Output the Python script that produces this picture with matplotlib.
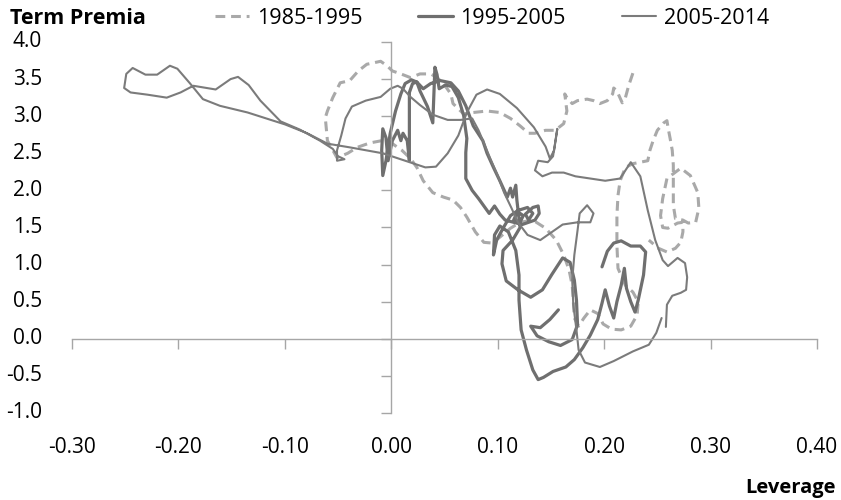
import numpy as np
import matplotlib
matplotlib.use("Agg")
import matplotlib.pyplot as plt
from matplotlib.transforms import blended_transform_factory

plt.rcParams['font.family'] = ['Open Sans', 'DejaVu Sans']

# Leverage (x) and term premia (y) paths for the three periods
lev_1985_1995 = [
    0.227, 0.223, 0.220, 0.217, 0.212, 0.209, 0.208, 0.203, 0.196, 0.190,
    0.184, 0.175, 0.170, 0.165, 0.163, 0.165, 0.162, 0.154, 0.145, 0.135,
    0.129, 0.121, 0.112, 0.102, 0.090, 0.077, 0.068, 0.058, 0.056, 0.049,
    0.043, 0.037, 0.027, 0.018, 0.009, 0.001, -0.004, -0.010, -0.023, -0.031,
    -0.039, -0.048, -0.055, -0.060, -0.062, -0.060, -0.051, -0.041, -0.032, -0.020,
    -0.009, 0.001, 0.010, 0.018, 0.024, 0.030, 0.039, 0.049, 0.058, 0.065,
    0.071, 0.079, 0.087, 0.095, 0.102, 0.112, 0.121, 0.133, 0.145, 0.155,
    0.162, 0.167, 0.170, 0.171, 0.172, 0.176, 0.181, 0.187, 0.194, 0.199,
    0.207, 0.216, 0.225, 0.231, 0.232, 0.227, 0.220, 0.213, 0.212, 0.212,
    0.213, 0.215, 0.220, 0.227, 0.241, 0.243, 0.246, 0.250, 0.256, 0.259,
    0.260, 0.262, 0.264, 0.265, 0.265, 0.265, 0.267, 0.274, 0.279, 0.286,
    0.289, 0.288, 0.281, 0.272, 0.259, 0.255, 0.253, 0.255, 0.260, 0.269,
    0.274, 0.274, 0.272, 0.267, 0.259, 0.251, 0.242,
]
tp_1985_1995 = [
    3.58, 3.41, 3.25, 3.18, 3.34, 3.38, 3.30, 3.21, 3.17, 3.21,
    3.23, 3.21, 3.17, 3.25, 3.30, 3.07, 2.90, 2.81, 2.81, 2.77,
    2.77, 2.87, 2.97, 3.05, 3.07, 3.05, 3.03, 3.17, 3.30, 3.44,
    3.52, 3.57, 3.57, 3.52, 3.57, 3.61, 3.68, 3.74, 3.70, 3.61,
    3.48, 3.45, 3.25, 3.07, 2.98, 2.67, 2.44, 2.50, 2.58, 2.64,
    2.67, 2.63, 2.54, 2.43, 2.31, 2.13, 1.97, 1.91, 1.87, 1.77,
    1.64, 1.44, 1.30, 1.29, 1.37, 1.49, 1.57, 1.60, 1.49, 1.33,
    1.13, 0.93, 0.72, 0.52, 0.28, 0.17, 0.28, 0.39, 0.34, 0.20,
    0.13, 0.12, 0.17, 0.32, 0.50, 0.63, 0.72, 0.95, 1.26, 1.66,
    1.93, 2.13, 2.31, 2.36, 2.40, 2.54, 2.67, 2.81, 2.91, 2.94,
    2.85, 2.70, 2.54, 2.34, 2.07, 1.80, 1.62, 1.60, 1.56, 1.57,
    1.76, 1.97, 2.20, 2.30, 2.16, 1.89, 1.66, 1.50, 1.49, 1.56,
    1.57, 1.44, 1.30, 1.22, 1.17, 1.22, 1.33,
]

lev_1995_2005 = [
    0.198, 0.203, 0.209, 0.216, 0.225, 0.234, 0.239, 0.237, 0.232, 0.229,
    0.225, 0.221, 0.219, 0.216, 0.212, 0.209, 0.205, 0.201, 0.198, 0.194,
    0.187, 0.180, 0.172, 0.164, 0.152, 0.143, 0.138, 0.133, 0.127, 0.122,
    0.120, 0.120, 0.117, 0.110, 0.102, 0.097, 0.096, 0.099, 0.105, 0.112,
    0.118, 0.124, 0.121, 0.115, 0.119, 0.128, 0.133, 0.129, 0.126, 0.133,
    0.138, 0.139, 0.135, 0.123, 0.107, 0.102, 0.097, 0.092, 0.087, 0.082,
    0.076, 0.070, 0.070, 0.071, 0.068, 0.063, 0.057, 0.051, 0.045, 0.043,
    0.041, 0.040, 0.039, 0.034, 0.027, 0.024, 0.020, 0.017, 0.017, 0.017,
    0.015, 0.011, 0.009, 0.006, 0.001, -0.003, -0.005, -0.008, -0.009, -0.008,
    -0.005, -0.001, 0.004, 0.009, 0.013, 0.019, 0.024, 0.030, 0.037, 0.046,
    0.056, 0.063, 0.070, 0.077, 0.086, 0.090, 0.096, 0.102, 0.109, 0.112,
    0.114, 0.117, 0.118, 0.121, 0.114, 0.105, 0.104, 0.108, 0.119, 0.131,
    0.142, 0.151, 0.161, 0.168, 0.172, 0.174, 0.175, 0.170, 0.159, 0.148,
    0.137, 0.131, 0.140, 0.149, 0.157,
]
tp_1995_2005 = [
    0.97, 1.18, 1.29, 1.32, 1.25, 1.25, 1.17, 0.86, 0.52, 0.36,
    0.50, 0.68, 0.95, 0.72, 0.50, 0.28, 0.44, 0.66, 0.48, 0.26,
    0.05, -0.12, -0.28, -0.38, -0.44, -0.52, -0.55, -0.42, -0.15, 0.12,
    0.52, 0.86, 1.19, 1.44, 1.52, 1.40, 1.13, 1.33, 1.49, 1.66,
    1.72, 1.66, 1.57, 1.60, 1.73, 1.77, 1.69, 1.60, 1.68, 1.77,
    1.79, 1.69, 1.60, 1.54, 1.60, 1.68, 1.79, 1.69, 1.79, 1.89,
    2.00, 2.16, 2.51, 2.70, 3.01, 3.25, 3.40, 3.42, 3.37, 3.56,
    3.66, 3.28, 2.91, 3.13, 3.34, 3.46, 3.44, 3.32, 2.94, 2.40,
    2.67, 2.77, 2.67, 2.81, 2.67, 2.40, 2.71, 2.83, 2.54, 2.20,
    2.40, 2.77, 3.07, 3.30, 3.44, 3.49, 3.46, 3.37, 3.44, 3.48,
    3.45, 3.34, 3.14, 2.87, 2.67, 2.50, 2.31, 2.13, 1.91, 2.03,
    1.91, 2.07, 1.87, 1.50, 1.33, 1.19, 1.01, 0.78, 0.66, 0.56,
    0.66, 0.87, 1.09, 1.03, 0.79, 0.52, 0.19, -0.01, -0.09, -0.04,
    0.04, 0.17, 0.15, 0.26, 0.39,
]

lev_2005_2014 = [
    0.258, 0.259, 0.264, 0.272, 0.277, 0.278, 0.276, 0.269, 0.260, 0.255,
    0.248, 0.241, 0.234, 0.225, 0.215, 0.201, 0.187, 0.173, 0.162, 0.151,
    0.142, 0.135, 0.138, 0.147, 0.152, 0.155, 0.156, 0.153, 0.149, 0.145,
    0.134, 0.118, 0.102, 0.090, 0.080, 0.071, 0.063, 0.053, 0.042, 0.032,
    0.013, -0.008, -0.039, -0.060, -0.079, -0.100, -0.111, -0.135, -0.161, -0.177,
    -0.189, -0.201, -0.208, -0.220, -0.231, -0.243, -0.249, -0.251, -0.245, -0.229,
    -0.211, -0.198, -0.186, -0.165, -0.151, -0.144, -0.134, -0.123, -0.104, -0.086,
    -0.067, -0.055, -0.050, -0.044, -0.051, -0.051, -0.047, -0.043, -0.037, -0.024,
    -0.010, -0.001, 0.006, 0.011, 0.018, 0.027, 0.039, 0.053, 0.065, 0.076,
    0.082, 0.087, 0.093, 0.100, 0.106, 0.113, 0.119, 0.128, 0.140, 0.151,
    0.161, 0.175, 0.187, 0.190, 0.184, 0.177, 0.175, 0.172, 0.170, 0.171,
    0.174, 0.176, 0.182, 0.196, 0.209, 0.227, 0.242, 0.249, 0.254,
]
tp_2005_2014 = [
    0.16, 0.46, 0.58, 0.62, 0.66, 0.83, 1.02, 1.09, 0.98, 1.06,
    1.33, 1.73, 2.19, 2.38, 2.16, 2.13, 2.16, 2.19, 2.24, 2.24,
    2.19, 2.27, 2.40, 2.38, 2.46, 2.74, 2.83, 2.54, 2.43, 2.59,
    2.85, 3.11, 3.30, 3.36, 3.29, 3.05, 2.74, 2.50, 2.32, 2.31,
    2.40, 2.50, 2.58, 2.63, 2.77, 2.89, 2.94, 3.05, 3.14, 3.23,
    3.44, 3.64, 3.68, 3.56, 3.56, 3.65, 3.57, 3.38, 3.32, 3.29,
    3.25, 3.32, 3.41, 3.36, 3.50, 3.53, 3.42, 3.21, 2.93, 2.82,
    2.67, 2.56, 2.46, 2.42, 2.40, 2.54, 2.74, 2.97, 3.13, 3.21,
    3.26, 3.37, 3.41, 3.37, 3.26, 3.15, 3.02, 2.95, 2.95, 2.97,
    2.81, 2.64, 2.43, 2.20, 1.97, 1.76, 1.57, 1.40, 1.33, 1.44,
    1.54, 1.57, 1.57, 1.69, 1.80, 1.69, 1.46, 1.13, 0.79, 0.46,
    0.12, -0.15, -0.32, -0.38, -0.30, -0.17, -0.08, 0.08, 0.28,
]

x_ticks = [-0.30, -0.20, -0.10, 0.00, 0.10, 0.20, 0.30, 0.40]
y_ticks = [-1.0, -0.5, 0.0, 0.5, 1.0, 1.5, 2.0, 2.5, 3.0, 3.5, 4.0]

AXIS_GREY = '#a6a6a6'
TICK_FS = 15

fig = plt.figure(figsize=(8.41, 5.0), dpi=100)
ax = fig.add_axes([72 / 841, 1 - 413 / 500, (817 - 72) / 841, (413 - 42) / 500])
ax.set_xlim(-0.30, 0.40)
ax.set_ylim(-1.0, 4.0)

l1, = ax.plot(lev_1985_1995, tp_1985_1995, color='#a9a9a9', lw=2.2,
              linestyle=(0, (3.2, 1.9)), dash_capstyle='butt',
              solid_joinstyle='round', label='1985-1995')
l2, = ax.plot(lev_1995_2005, tp_1995_2005, color='#6f6f6f', lw=2.3,
              solid_joinstyle='round', solid_capstyle='round', label='1995-2005')
l3, = ax.plot(lev_2005_2014, tp_2005_2014, color='#7b7b7b', lw=1.5,
              solid_joinstyle='round', solid_capstyle='round', label='2005-2014')

# Axes cross at the origin, labels sit at the outer edges
for side in ('top', 'right'):
    ax.spines[side].set_visible(False)
for side in ('left', 'bottom'):
    ax.spines[side].set_position(('data', 0))
    ax.spines[side].set_color(AXIS_GREY)
    ax.spines[side].set_linewidth(1.0)
ax.set_xticks(x_ticks)
ax.set_yticks(y_ticks)
ax.tick_params(direction='out', length=7, width=1.0, color=AXIS_GREY,
               labelleft=False, labelbottom=False)
ax.set_facecolor('none')

ytrans = blended_transform_factory(ax.transAxes, ax.transData)
for v in y_ticks:
    ax.text(-0.040, v, f'{v:.1f}', transform=ytrans, ha='right', va='center',
            fontsize=TICK_FS, color='black')
xtrans = blended_transform_factory(ax.transData, ax.transAxes)
for v in x_ticks:
    ax.text(v, -0.094, f'{v:.2f}', transform=xtrans, ha='center', va='center',
            fontsize=TICK_FS, color='black')

fig.text(10 / 841, 1 - 18 / 500, 'Term Premia', fontsize=15.5, fontweight='bold',
         ha='left', va='center')
fig.text(836 / 841, 1 - 488 / 500, 'Leverage', fontsize=14.5, fontweight='bold',
         ha='right', va='center')

fig.legend(handles=[l1, l2, l3], loc='center left',
           bbox_to_anchor=(215 / 841, 1 - 18 / 500), ncol=3, frameon=False,
           fontsize=15.5, handlelength=1.6, handletextpad=0.35,
           columnspacing=2.6, borderpad=0, borderaxespad=0)

fig.savefig('out.png', dpi=100)
